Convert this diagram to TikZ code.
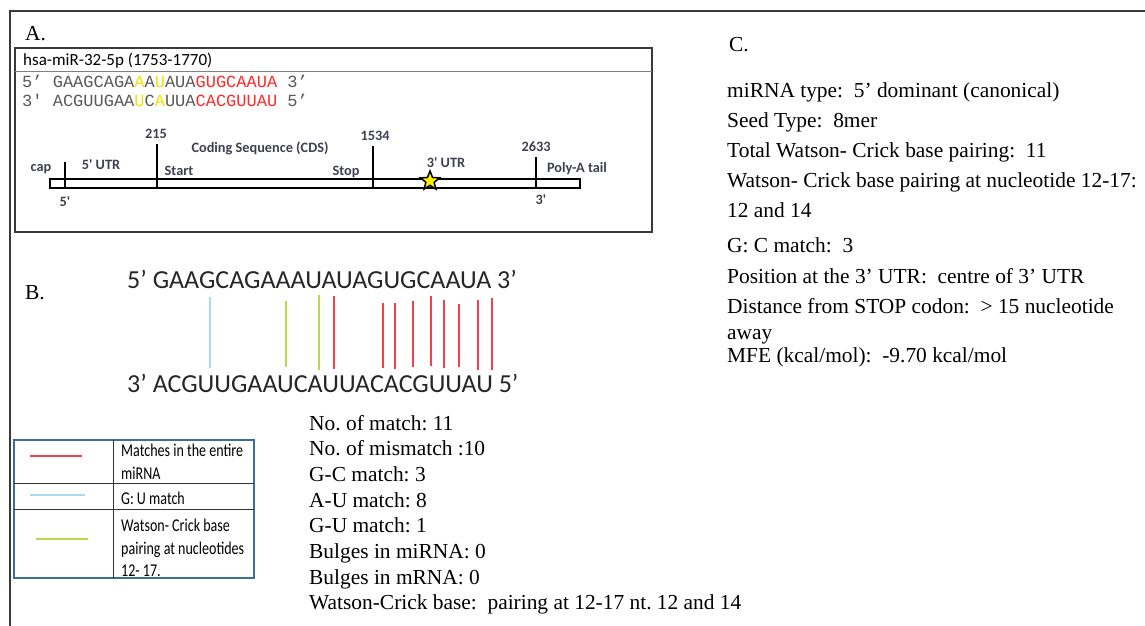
\documentclass[tikz,border=0pt]{standalone}
\usepackage{fontspec}
\setmainfont{Liberation Serif}
\newfontfamily\calfont{Carlito}
\newfontfamily\legfont{Carlito}[FakeStretch=0.78]
\newfontfamily\seqfont{Liberation Mono}
\usetikzlibrary{shapes.geometric,positioning}
\frenchspacing

\definecolor{framegray}{HTML}{3A3A3A}
\definecolor{seqgray}{HTML}{595959}
\definecolor{seqred}{HTML}{FF2A2A}
\definecolor{seqyellow}{HTML}{F2E200}
\definecolor{labgray}{HTML}{3F4050}
\definecolor{pairred}{HTML}{F2414E}
\definecolor{pairblue}{HTML}{A9DBF0}
\definecolor{pairgreen}{HTML}{B9D94B}
\definecolor{tblue}{HTML}{3D6F92}

\newcommand{\yel}[1]{\textcolor{seqyellow}{#1}}
\newcommand{\rd}[1]{\textcolor{seqred}{#1}}

\begin{document}
\begin{tikzpicture}[
  x=1pt, y=-1pt,
  txt/.style={font=\fontsize{21.4}{25}\selectfont, anchor=base west, inner sep=0pt},
  lbl/.style={font=\calfont\bfseries\fontsize{14.3}{16}\selectfont, text=labgray, inner sep=0pt},
  seq/.style={font=\seqfont\fontsize{17}{19}\selectfont, text=seqgray, anchor=base west, inner sep=0pt},
  bigseq/.style={font=\calfont\fontsize{26}{28}\selectfont, text=black!85, anchor=base west, inner sep=0pt},
  leg/.style={font=\legfont\fontsize{18}{20}\selectfont, anchor=base west, inner sep=0pt},
  tick/.style={line width=2pt},
  pair/.style={line width=2pt},
]
\fill[white] (0,0) rectangle (1145,626);
\useasboundingbox (0,0) rectangle (1145,626);

%% outer frame
\draw[framegray, line width=2.5pt] (10,626) -- (10,11) -- (1145,11);

%% panel A
\node[txt] (labA) at (25,41) {A.};
\draw[framegray, line width=1.5pt] (15,48) rectangle (652,232);
\draw[gray, line width=1pt] (15,71) -- (652,71);
\node[font=\calfont\fontsize{17}{20}\selectfont, anchor=base west, inner sep=0pt] (mirname)
  at (23,66) {hsa-miR-32-5p (1753-1770)};
\node[seq] (seqtop) at (22,87)
  {5’ GAAGCAGA\yel{A}A\yel{U}AUA\rd{GUGCAAUA} 3’};
\node[seq] (seqbot) at (22,106)
  {3' ACGUUGAA\yel{U}C\yel{A}UUA\rd{CACGUUAU} 5’};

% mRNA bar
\draw[line width=2pt] (50,179) rectangle (580,188);
\foreach \tx/\ty in {65/162, 157/144, 373/146, 536/157}
  \draw[tick] (\tx,\ty) -- (\tx,188);
\node[star, star points=5, star point ratio=2.3, fill=yellow, draw=black,
  line width=1.5pt, minimum size=20pt, inner sep=0pt] (site) at (430,181) {};

\node[lbl] (cap)   at (41,169)  {cap};
\node[lbl] (utr5)  at (101,165) {5' UTR};
\node[lbl] (p215)  at (156,134) {215};
\node[lbl] (cds)   at (260,148) {Coding Sequence (CDS)};
\node[lbl] (start) at (179,171) {Start};
\node[lbl] (stop)  at (346,172) {Stop};
\node[lbl] (p1534) at (375,136) {1534};
\node[lbl] (utr3)  at (446,163) {3' UTR};
\node[lbl] (p2633) at (536,147) {2633};
\node[lbl] (poly)  at (577,169) {Poly-A tail};
\node[lbl] (end5)  at (65,202)  {5'};
\node[lbl] (end3)  at (541,200) {3'};

%% panel B
\node[txt] (labB) at (25,299) {B.};
\node[bigseq] (mir)  at (127,288) {5’ GAAGCAGAAAUAUAGUGCAAUA 3’};
\node[bigseq] (mrna) at (127,392) {3’ ACGUUGAAUCAUUACACGUUAU 5’};

\draw[pair, pairblue] (210,297) -- (210,368);
\draw[pair, pairgreen] (286,301) -- (286,367);
\draw[pair, pairgreen] (319,295) -- (319,370);
\foreach \px/\pt/\pb in {334/296/369, 383/303/368, 395/303/369, 413/301/367,
  431/296/366, 444/300/368, 459/304/367, 478/300/370, 492/298/370}
  \draw[pair, pairred] (\px,\pt) -- (\px,\pb);

% legend
\draw[tblue, line width=1.5pt] (14,440) rectangle (254,578);
\draw[black!80, line width=1pt] (113,440) -- (113,578);
\draw[black!80, line width=1pt] (14,483) -- (254,483);
\draw[black!80, line width=1pt] (14,509) -- (254,509);
\draw[pair, pairred] (30,456) -- (82,456);
\draw[pair, pairblue] (30,495) -- (85,495);
\draw[pair, pairgreen] (36,539) -- (88,539);
\node[leg] (legred1)   at (121,456) {Matches in the entire};
\node[leg] (legred2)   at (121,479) {miRNA};
\node[leg] (legblue)   at (121,504) {G: U match};
\node[leg] (leggreen1) at (121,531) {Watson- Crick base};
\node[leg] (leggreen2) at (121,554) {pairing at nucleotides};
\node[leg] (leggreen3) at (121,576) {12- 17.};

% match counts
\foreach \txt [count=\i] in {No. of match: 11, No. of mismatch :10, G-C match: 3,
  A-U match: 8, G-U match: 1, Bulges in miRNA: 0, Bulges in mRNA: 0,
  Watson-Crick base:\ \ pairing at 12-17 nt. 12 and 14}
  \node[txt] (stat\i) at (309,{430+25.7*(\i-1)}) {\txt};

%% panel C
\node[txt] (labC) at (729,52) {C.};
\foreach \yy/\txt [count=\i] in {97/{miRNA type:\ \ 5’ dominant (canonical)},
  127/{Seed Type:\ \ 8mer},
  157/{Total Watson- Crick base pairing:\ \ 11},
  187/{Watson- Crick base pairing at nucleotide 12-17:},
  217/{12 and 14},
  252/{G: C match:\ \ 3},
  283/{Position at the 3’ UTR:\ \ centre of 3’ UTR},
  313/{Distance from STOP codon:\ \ > 15 nucleotide},
  339/{away},
  362/{MFE (kcal/mol):\ \ -9.70 kcal/mol}}
  \node[txt] (feat\i) at (727,\yy) {\txt};
\end{tikzpicture}
\end{document}
